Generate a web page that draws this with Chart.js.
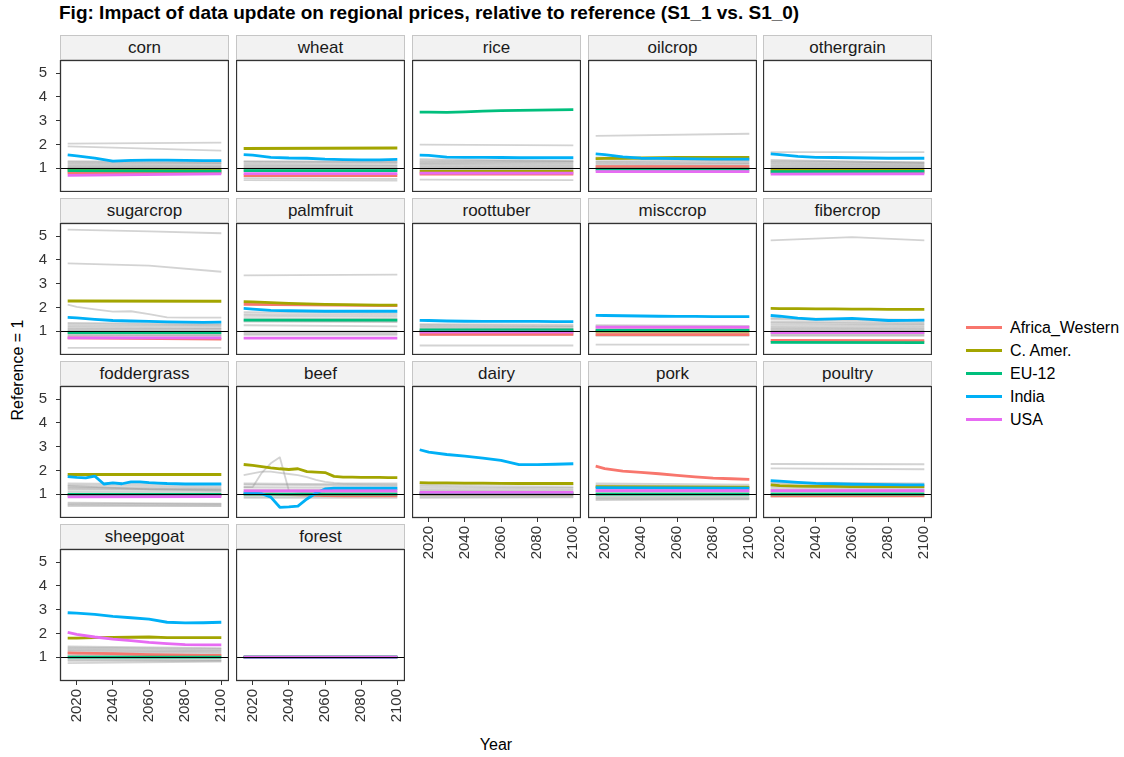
<!DOCTYPE html>
<html>
<head>
<meta charset="utf-8">
<script src="https://cdn.jsdelivr.net/npm/chart.js@4.4.1/dist/chart.umd.min.js"></script>
<style>
  body { margin: 0; background: #fff; font-family: "Liberation Sans", Arial, sans-serif; }
  #page { position: relative; width: 1124px; height: 757px; overflow: hidden; }
  .title { position: absolute; left: 59px; top: 2px; font-size: 19px; font-weight: bold; color: #000; line-height: 22px; white-space: nowrap; }
  .strip { position: absolute; height: 25px; box-sizing: border-box; background: #f2f2f2; border: 1px solid #c6c6c6;
           text-align: center; font-size: 17px; line-height: 23px; color: #1a1a1a; }
  .panel { position: absolute; }
  .ytitle { position: absolute; left: 18px; top: 370px; transform: translate(-50%, -50%) rotate(-90deg); font-size: 16px; color: #000; white-space: nowrap; }
  .xtitle { position: absolute; left: 496px; top: 745px; transform: translate(-50%, -50%); font-size: 16px; color: #000; }
  .legend { position: absolute; left: 966px; top: 316px; }
  .key { height: 23px; display: flex; align-items: center; font-size: 16px; color: #000; }
  .key span { display: inline-block; width: 36px; height: 3px; margin-right: 8px; }
</style>
</head>
<body>
<div id="page">
  <div class="title">Fig: Impact of data update on regional prices, relative to reference (S1_1 vs. S1_0)</div>
  <div class="ytitle">Reference = 1</div>
  <div class="xtitle">Year</div>
  <div class="legend" id="legend"></div>
</div>
<script>
// year grids used by the series (length of a series picks its grid)
const YEARS5 = [2015, 2020, 2025, 2030, 2035, 2040, 2045, 2050, 2055, 2060, 2065, 2070, 2075, 2080, 2085, 2090, 2095, 2100];
const YEARS10 = [2015, 2020, 2030, 2040, 2050, 2060, 2070, 2080, 2090, 2100];
const YEARS3 = [2015, 2060, 2100];
const YEARS2 = [2015, 2100];

const X_TICKS = [2020, 2040, 2060, 2080, 2100];
const Y_TICKS = [1, 2, 3, 4, 5];

const REGIONS = ["Africa_Western", "C. Amer.", "EU-12", "India", "USA"];
const REGION_COLORS = ["#F8766D", "#A3A500", "#00BF7D", "#00B0F6", "#E76BF3"];

const COMMODITIES = ["corn", "wheat", "rice", "oilcrop", "othergrain",
  "sugarcrop", "palmfruit", "roottuber", "misccrop", "fibercrop",
  "foddergrass", "beef", "dairy", "pork", "poultry",
  "sheepgoat", "forest"];

// highlighted regions, in REGIONS order
const corn = [[0.8, 0.82], [0.95, 0.94], [0.9, 0.88],
  [1.56, 1.52, 1.42, 1.3, 1.33, 1.34, 1.34, 1.33, 1.32, 1.32], [0.7, 0.76]];
const wheat = [[0.69, 0.69], [1.83, 1.85], [0.9, 0.9],
  [1.57, 1.55, 1.46, 1.43, 1.42, 1.38, 1.36, 1.35, 1.35, 1.37], [0.77, 0.77]];
const rice = [[0.75, 0.75], [0.87, 0.87], [3.36, 3.36, 3.35, 3.37, 3.4, 3.42, 3.43, 3.44, 3.45, 3.46],
  [1.55, 1.54, 1.47, 1.46, 1.46, 1.45, 1.44, 1.44, 1.44, 1.44], [0.79, 0.79]];
const oilcrop = [[1.07, 1.07], [1.4, 1.41, 1.42, 1.43, 1.44, 1.45, 1.45, 1.45, 1.46, 1.46], [0.96, 0.96],
  [1.6, 1.57, 1.48, 1.42, 1.41, 1.4, 1.39, 1.38, 1.38, 1.38], [0.86, 0.86]];
const othergrain = [[0.82, 0.82], [0.93, 0.93], [0.86, 0.87],
  [1.6, 1.57, 1.5, 1.46, 1.45, 1.44, 1.43, 1.42, 1.42, 1.42], [0.75, 0.76]];
const sugarcrop = [[0.72, 0.67], [2.27, 2.26], [0.94, 0.94],
  [1.58, 1.56, 1.5, 1.45, 1.43, 1.41, 1.39, 1.38, 1.37, 1.38], [0.72, 0.72]];
const palmfruit = [[2.13, 2.08], [2.24, 2.23, 2.2, 2.17, 2.15, 2.13, 2.12, 2.11, 2.1, 2.1], [1.47, 1.47],
  [1.96, 1.93, 1.88, 1.86, 1.85, 1.84, 1.84, 1.84, 1.84, 1.84], [0.71, 0.71]];
const roottuber = [[0.87, 0.87], [1.0, 1.0], [1.06, 1.06],
  [1.46, 1.45, 1.43, 1.42, 1.41, 1.41, 1.41, 1.41, 1.4, 1.4], [0.96, 0.96]];
const misccrop = [[0.86, 0.86], [1.0, 1.0], [1.03, 1.03],
  [1.67, 1.66, 1.65, 1.64, 1.63, 1.62, 1.62, 1.61, 1.61, 1.61], [1.17, 1.17]];
const fibercrop = [[0.61, 0.6], [1.96, 1.95, 1.95, 1.94, 1.94, 1.93, 1.93, 1.92, 1.92, 1.92], [0.53, 0.52],
  [1.66, 1.63, 1.55, 1.5, 1.52, 1.54, 1.5, 1.45, 1.46, 1.47], [0.94, 0.94]];
const foddergrass = [[0.95, 0.95], [1.83, 1.83], [0.99, 0.99],
  [1.74, 1.71, 1.69, 1.76, 1.43, 1.48, 1.44, 1.52, 1.52, 1.49, 1.47, 1.45, 1.44, 1.43, 1.43, 1.43, 1.43, 1.43],
  [0.89, 0.9]];
const beef = [[1.0, 1.0, 1.0, 0.98, 0.96, 0.94, 0.93, 0.93, 0.93, 0.93],
  [2.25, 2.21, 2.16, 2.11, 2.07, 2.04, 2.07, 1.95, 1.93, 1.91, 1.75, 1.72, 1.72, 1.71, 1.71, 1.71, 1.7, 1.7],
  [1.0, 1.0],
  [1.06, 1.05, 1.02, 0.88, 0.45, 0.47, 0.5, 0.8, 1.05, 1.22, 1.25, 1.25, 1.25, 1.25, 1.25, 1.25, 1.25, 1.25],
  [1.14, 1.14]];
const dairy = [[1.0, 1.0], [1.49, 1.48, 1.48, 1.47, 1.47, 1.46, 1.45, 1.45, 1.45, 1.45], [1.02, 1.02],
  [2.87, 2.77, 2.67, 2.6, 2.52, 2.42, 2.24, 2.24, 2.26, 2.28], [1.08, 1.08]];
const pork = [[2.18, 2.08, 1.97, 1.92, 1.86, 1.79, 1.73, 1.68, 1.65, 1.62], [1.32, 1.3], [1.0, 1.0],
  [1.28, 1.25], [1.15, 1.15]];
const poultry = [[0.93, 0.93], [1.39, 1.36, 1.34, 1.33, 1.33, 1.32, 1.32, 1.32, 1.32, 1.32], [1.0, 1.0],
  [1.57, 1.55, 1.5, 1.46, 1.44, 1.42, 1.41, 1.4, 1.39, 1.39], [1.15, 1.15]];
const sheepgoat = [[1.18, 1.17, 1.16, 1.15, 1.13, 1.11, 1.1, 1.09, 1.08, 1.08],
  [1.8, 1.8, 1.82, 1.83, 1.84, 1.85, 1.82, 1.82, 1.82, 1.82], [1.0, 1.0],
  [2.87, 2.85, 2.8, 2.72, 2.66, 2.6, 2.47, 2.44, 2.45, 2.47],
  [2.04, 1.96, 1.85, 1.76, 1.7, 1.62, 1.57, 1.53, 1.52, 1.52]];
const forest = [[1, 1], [1, 1], [1, 1], [1, 1], [1, 1]];

// all other regions (drawn in grey)
const cornOther = [[2.03, 2.08], [1.92, 1.74], [1.3, 1.25], [1.25, 1.22], [1.2, 1.18], [1.15, 1.12], [1.1, 1.08],
  [1.05, 1.05], [1.02, 1.0], [0.98, 0.97], [0.95, 0.93], [0.9, 0.9], [0.85, 0.86], [0.8, 0.82]];
const wheatOther = [[1.3, 1.28], [1.27, 1.25], [1.2, 1.2], [1.15, 1.13], [1.1, 1.1], [1.05, 1.05], [1.0, 1.0],
  [0.97, 0.96], [0.93, 0.92], [0.88, 0.88], [0.58, 0.55], [0.5, 0.48]];
const riceOther = [[1.99, 1.96], [1.38, 1.3], [1.32, 1.3], [1.28, 1.25], [1.22, 1.2], [1.17, 1.15], [1.12, 1.1],
  [1.07, 1.05], [1.02, 1.0], [0.97, 0.97], [0.93, 0.93], [0.52, 0.5]];
const oilcropOther = [[2.36, 2.45], [1.45, 1.35], [1.38, 1.32], [1.3, 1.28], [1.25, 1.22], [1.2, 1.18],
  [1.15, 1.12], [1.1, 1.1], [1.05, 1.03], [1.0, 1.0], [0.95, 0.95], [0.9, 0.9]];
const othergrainOther = [[1.68, 1.68], [1.35, 1.22], [1.3, 1.25], [1.25, 1.2], [1.2, 1.15], [1.15, 1.12],
  [1.1, 1.08], [1.05, 1.05], [1.0, 1.0], [0.95, 0.97], [0.9, 0.9]];
const sugarcropOther = [[5.27, 5.2, 5.12], [3.85, 3.76, 3.5],
  [2.12, 2.02, 1.92, 1.82, 1.84, 1.72, 1.58, 1.57, 1.57, 1.57],
  [1.35, 1.3], [1.3, 1.25], [1.22, 1.2], [1.15, 1.13], [1.1, 1.1], [1.05, 1.05], [1.0, 1.0],
  [0.95, 0.95], [0.9, 0.88], [0.85, 0.83], [0.8, 0.8], [0.3, 0.3]];
const palmfruitOther = [[3.35, 3.38], [1.8, 1.75], [1.72, 1.68], [1.65, 1.6], [1.55, 1.52], [1.45, 1.42],
  [1.4, 1.38], [1.25, 1.2], [1.0, 1.0], [0.95, 0.95], [0.9, 0.9], [0.85, 0.85]];
const roottuberOther = [[1.3, 1.28], [1.25, 1.22], [1.2, 1.18], [1.15, 1.12], [1.1, 1.1], [1.05, 1.05],
  [1.0, 1.0], [0.95, 0.95], [0.9, 0.9], [0.85, 0.85], [0.4, 0.4]];
const misccropOther = [[1.25, 1.22], [1.2, 1.18], [1.15, 1.13], [1.1, 1.1], [1.05, 1.05], [1.0, 1.0],
  [0.95, 0.95], [0.9, 0.9], [0.85, 0.85], [0.8, 0.8], [0.44, 0.44]];
const fibercropOther = [[4.82, 4.96, 4.82], [1.55, 1.48], [1.5, 1.42], [1.4, 1.35], [1.35, 1.3], [1.28, 1.25],
  [1.2, 1.18], [1.15, 1.12], [1.1, 1.08], [1.05, 1.02], [1.0, 1.0], [0.95, 0.93], [0.9, 0.9], [0.85, 0.85],
  [0.8, 0.8]];
const foddergrassOther = [[1.45, 1.4], [1.38, 1.32], [1.3, 1.25], [1.25, 1.2], [1.35, 1.2, 1.15], [1.2, 1.18],
  [1.12, 1.12], [1.05, 1.05], [0.98, 0.98], [0.65, 0.6], [0.6, 0.58], [0.55, 0.52], [0.5, 0.5]];
const beefOther = [
  [1.3, 1.3, 1.9, 2.3, 2.55, 1.15, 1.1, 1.08, 1.08, 1.06, 1.05, 1.05, 1.05, 1.05, 1.05, 1.05, 1.05, 1.05],
  [1.8, 1.88, 1.95, 1.95, 1.9, 1.85, 1.8, 1.72, 1.6, 1.52, 1.48, 1.46, 1.45, 1.45, 1.45, 1.45, 1.45, 1.45],
  [1.45, 1.4], [1.4, 1.35], [1.3, 1.28], [1.2, 1.2], [1.1, 1.1], [1.0, 1.0], [0.9, 0.92], [0.85, 0.85]];
const dairyOther = [[1.42, 1.4], [1.35, 1.3], [1.28, 1.25], [1.2, 1.18], [1.15, 1.12], [1.1, 1.08],
  [1.05, 1.03], [1.0, 1.0], [0.95, 0.95], [0.9, 0.9], [0.85, 0.87]];
const porkOther = [[1.45, 1.4], [1.38, 1.32], [1.3, 1.28], [1.22, 1.2], [1.15, 1.12], [1.1, 1.08], [1.02, 1.0],
  [0.95, 0.95], [0.9, 0.9], [0.85, 0.85], [0.8, 0.8], [0.75, 0.78]];
const poultryOther = [[2.27, 2.26], [2.09, 2.05], [1.5, 1.45], [1.45, 1.4], [1.35, 1.32], [1.28, 1.25],
  [1.2, 1.18], [1.12, 1.1], [1.05, 1.05], [1.0, 1.0], [0.95, 0.95], [0.9, 0.92]];
const sheepgoatOther = [[1.45, 1.38], [1.4, 1.35], [1.35, 1.3], [1.3, 1.25], [1.25, 1.2], [1.18, 1.15],
  [1.1, 1.08], [1.05, 1.03], [0.95, 0.95], [0.9, 0.88], [0.85, 0.85], [0.75, 0.82]];
const forestOther = [[1, 1], [1, 1], [1, 1], [1, 1]];

const SERIES = {
  corn: [corn, cornOther], wheat: [wheat, wheatOther], rice: [rice, riceOther],
  oilcrop: [oilcrop, oilcropOther], othergrain: [othergrain, othergrainOther],
  sugarcrop: [sugarcrop, sugarcropOther], palmfruit: [palmfruit, palmfruitOther],
  roottuber: [roottuber, roottuberOther], misccrop: [misccrop, misccropOther],
  fibercrop: [fibercrop, fibercropOther], foddergrass: [foddergrass, foddergrassOther],
  beef: [beef, beefOther], dairy: [dairy, dairyOther], pork: [pork, porkOther],
  poultry: [poultry, poultryOther], sheepgoat: [sheepgoat, sheepgoatOther], forest: [forest, forestOther],
};

// layout of the facet grid
const COL_X = [60, 236, 412, 588, 763];
const ROW_Y = [60, 223, 386, 549];
const PANEL_W = 169, PANEL_H = 132;
const Y_AXIS_W = 60, X_AXIS_H = 64;

Chart.defaults.font.family = "'Liberation Sans', Arial, sans-serif";
Chart.defaults.color = "#333";

function pts(vals) {
  const yrs = vals.length === 18 ? YEARS5 : vals.length === 10 ? YEARS10 : vals.length === 3 ? YEARS3 : YEARS2;
  return vals.map((v, i) => ({ x: yrs[i], y: v }));
}

// keep the plot area fixed: no extra room for overhanging tick labels
function noPad(s) {
  s.paddingLeft = 0; s.paddingRight = 0; s.paddingTop = 0; s.paddingBottom = 0;
}

// reference line at 1 and the panel frame
const facetFrame = {
  id: "facetFrame",
  afterDatasetsDraw(chart) {
    const { ctx, chartArea: a, scales } = chart;
    const y1 = Math.round(scales.y.getPixelForValue(1)) + 0.5;
    ctx.save();
    ctx.strokeStyle = "#000";
    ctx.lineWidth = 1;
    ctx.beginPath();
    ctx.moveTo(a.left, y1);
    ctx.lineTo(a.right, y1);
    ctx.stroke();
    ctx.strokeStyle = "#333";
    ctx.lineWidth = 1.3;
    ctx.strokeRect(a.left + 0.5, a.top + 0.5, a.right - a.left - 1, a.bottom - a.top - 1);
    ctx.restore();
  },
};

const page = document.getElementById("page");

COMMODITIES.forEach((name, i) => {
  const col = i % 5, row = Math.floor(i / 5);
  const showY = col === 0;
  const showX = row === 3 || (row === 2 && col >= 2);

  const strip = document.createElement("div");
  strip.className = "strip";
  strip.textContent = name;
  strip.style.left = COL_X[col] + "px";
  strip.style.top = (ROW_Y[row] - 25) + "px";
  strip.style.width = PANEL_W + "px";
  page.appendChild(strip);

  const w = PANEL_W + (showY ? Y_AXIS_W : 0);
  const h = PANEL_H + (showX ? X_AXIS_H : 0);
  const box = document.createElement("div");
  box.className = "panel";
  box.style.left = (COL_X[col] - (showY ? Y_AXIS_W : 0)) + "px";
  box.style.top = ROW_Y[row] + "px";
  const canvas = document.createElement("canvas");
  canvas.width = w;
  canvas.height = h;
  box.appendChild(canvas);
  page.appendChild(box);

  const [hi, other] = SERIES[name];
  const datasets = [];
  other.forEach(vals => datasets.push({
    data: pts(vals), borderColor: "rgba(150,150,150,0.42)", borderWidth: 1.8, order: 10,
  }));
  hi.forEach((vals, k) => datasets.push({
    label: REGIONS[k], data: pts(vals), borderColor: REGION_COLORS[k], borderWidth: 2.8, order: 5 - k,
  }));

  new Chart(canvas.getContext("2d"), {
    type: "line",
    data: { datasets },
    options: {
      responsive: false,
      animation: false,
      devicePixelRatio: 1,
      layout: { padding: 0 },
      elements: { point: { radius: 0 }, line: { tension: 0, borderJoinStyle: "round" } },
      plugins: { legend: { display: false }, tooltip: { enabled: false } },
      scales: {
        x: {
          type: "linear", min: 2010.75, max: 2104.25, display: showX,
          afterBuildTicks: s => { s.ticks = X_TICKS.map(v => ({ value: v })); },
          afterFit: s => { noPad(s); if (showX) s.height = X_AXIS_H; },
          ticks: { autoSkip: false, minRotation: 90, maxRotation: 90, padding: 4, color: "#333",
                   font: { size: 15 }, callback: v => String(v) },
          grid: { display: true, drawOnChartArea: false, tickLength: 4, color: "#333" },
          border: { display: false },
        },
        y: {
          type: "linear", min: 0, max: 5.55, display: showY,
          afterBuildTicks: s => { s.ticks = Y_TICKS.map(v => ({ value: v })); },
          afterFit: s => { noPad(s); if (showY) s.width = Y_AXIS_W; },
          ticks: { padding: 9, color: "#333", font: { size: 15 } },
          grid: { display: true, drawOnChartArea: false, tickLength: 4, color: "#333" },
          border: { display: false },
        },
      },
    },
    plugins: [facetFrame],
  });
});

// legend keys
const legend = document.getElementById("legend");
REGIONS.forEach((r, k) => {
  const row = document.createElement("div");
  row.className = "key";
  const sw = document.createElement("span");
  sw.style.background = REGION_COLORS[k];
  row.appendChild(sw);
  row.appendChild(document.createTextNode(r));
  legend.appendChild(row);
});
</script>
</body>
</html>
